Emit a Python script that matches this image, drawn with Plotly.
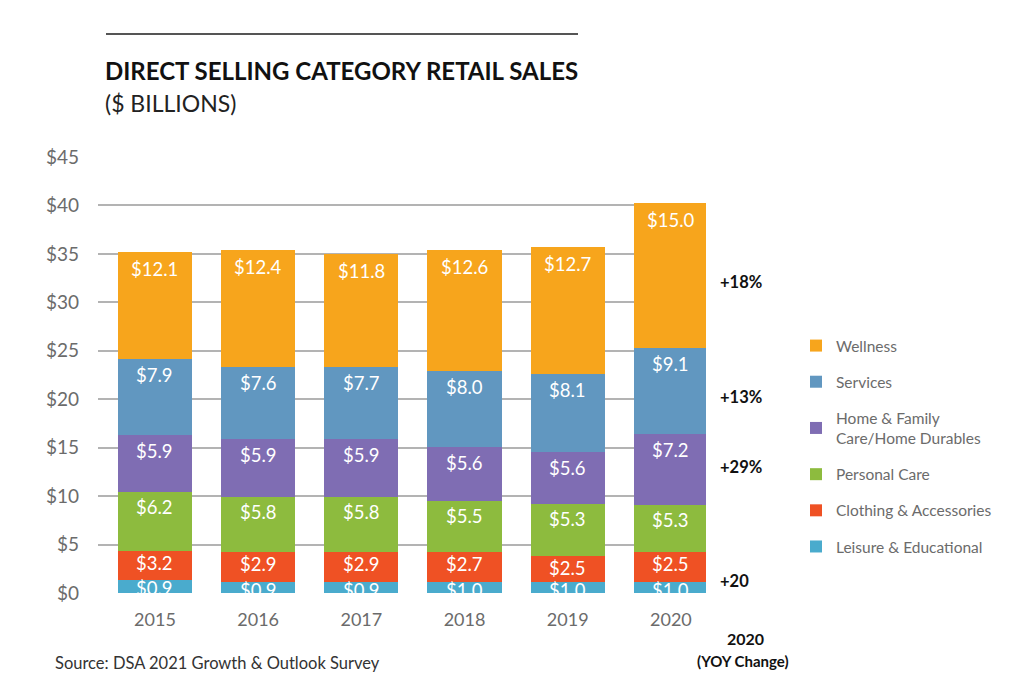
import plotly.graph_objects as go
import numpy as np

years = ["2015", "2016", "2017", "2018", "2019", "2020"]
series_names = ["Leisure & Educational", "Clothing & Accessories", "Personal Care",
                "Home & Family<br>Care/Home Durables", "Services", "Wellness"]
# value labels printed on the bars ($ billions)
leisure_lbl = ["$0.9", "$0.9", "$0.9", "$1.0", "$1.0", "$1.0"]
clothing_lbl = ["$3.2", "$2.9", "$2.9", "$2.7", "$2.5", "$2.5"]
personal_lbl = ["$6.2", "$5.8", "$5.8", "$5.5", "$5.3", "$5.3"]
home_lbl = ["$5.9", "$5.9", "$5.9", "$5.6", "$5.6", "$7.2"]
services_lbl = ["$7.9", "$7.6", "$7.7", "$8.0", "$8.1", "$9.1"]
wellness_lbl = ["$12.1", "$12.4", "$11.8", "$12.6", "$12.7", "$15.0"]
# segment heights as drawn in the picture ($ billions)
leisure = [1.3, 1.13, 1.13, 1.13, 1.13, 1.1]
clothing = [2.99, 3.06, 3.06, 3.06, 2.65, 3.1]
personal = [6.12, 5.71, 5.71, 5.29, 5.4, 4.85]
home = [5.91, 5.98, 5.98, 5.57, 5.42, 7.35]
services = [7.83, 7.42, 7.42, 7.9, 7.98, 8.86]
wellness = [11.04, 12.09, 11.69, 12.44, 13.15, 15.04]
yoy_labels = ["+18%", "+13%", "+29%", "+20"]
y_ticks = [0, 5, 10, 15, 20, 25, 30, 35, 40, 45]

colors = ["#4AABCD", "#EF5124", "#8DBB3E", "#7F6DB3", "#6197C0", "#F7A51C"]
values = [leisure, clothing, personal, home, services, wellness]
labels = [leisure_lbl, clothing_lbl, personal_lbl, home_lbl, services_lbl, wellness_lbl]
label_shift = [-8, -12, -15, -16, -16, -17]

FONT = "Lato"
L, R, T, B = 98, 706, 157, 593
W, H = 1024, 694
def px(x):
    return (x - L) / (R - L)
def py(y):
    return (B - y) / (B - T)

fig = go.Figure()
n = len(series_names)
for k, (name, vals, col) in enumerate(zip(series_names, values, colors)):
    fig.add_trace(go.Bar(x=years, y=vals, name=name, marker=dict(color=col, line=dict(width=0)),
                         width=0.72, legendgroup=name, legendrank=n - k, hoverinfo="skip"))

annotations = []
cum = np.zeros(len(years))
for vals, lbls, sh in zip(values, labels, label_shift):
    cum = cum + np.array(vals)
    for i, (top, t) in enumerate(zip(cum, lbls)):
        annotations.append(dict(x=i, y=float(top), xref="x", yref="y", text=t, showarrow=False,
                                yanchor="middle", yshift=sh,
                                font=dict(family=FONT, size=18.5, color="white")))

# title and subtitle
annotations.append(dict(x=px(103), y=py(70), xref="paper", yref="paper", xanchor="left", yanchor="middle",
                        text="<b>DIRECT SELLING CATEGORY RETAIL SALES</b>", showarrow=False,
                        font=dict(family=FONT, size=24, color="#111111")))
annotations.append(dict(x=px(103), y=py(103), xref="paper", yref="paper", xanchor="left", yanchor="middle",
                        text="($ BILLIONS)", showarrow=False,
                        font=dict(family=FONT, size=23, color="#222222")))
# YOY changes
for t, yp in zip(yoy_labels, [282, 397, 467, 581]):
    annotations.append(dict(x=px(718), y=py(yp), xref="paper", yref="paper", xanchor="left", yanchor="middle",
                            text="<b>" + t + "</b>", showarrow=False,
                            font=dict(family=FONT, size=16.5, color="#111111")))
annotations.append(dict(x=px(745), y=py(638), xref="paper", yref="paper", xanchor="center", yanchor="middle",
                        text="<b>2020</b>", showarrow=False, font=dict(family=FONT, size=16, color="#111111")))
annotations.append(dict(x=px(743), y=py(661), xref="paper", yref="paper", xanchor="center", yanchor="middle",
                        text="<b>(YOY Change)</b>", showarrow=False, font=dict(family=FONT, size=15, color="#111111")))
# source
annotations.append(dict(x=px(53), y=py(663), xref="paper", yref="paper", xanchor="left", yanchor="middle",
                        text="Source: DSA 2021 Growth & Outlook Survey", showarrow=False,
                        font=dict(family=FONT, size=16.5, color="#333333")))

fig.update_layout(
    width=W, height=H,
    margin=dict(l=L, r=W - R, t=T, b=H - B, pad=0),
    barmode="stack",
    plot_bgcolor="white", paper_bgcolor="white",
    font=dict(family=FONT, color="#6b6b6b"),
    annotations=annotations,
    shapes=[dict(type="line", xref="paper", yref="paper", x0=px(106), x1=px(578), y0=py(34), y1=py(34),
                 line=dict(color="#555555", width=2))],
    legend=dict(x=px(796), y=py(329), xanchor="left", yanchor="top",
                traceorder="grouped", tracegroupgap=13,
                font=dict(family=FONT, size=15.5, color="#6b6b6b"), bgcolor="rgba(0,0,0,0)"),
    xaxis=dict(type="category", range=[-0.552, 5.34], showgrid=False, showline=False, zeroline=False, ticks="",
               tickfont=dict(family=FONT, size=18, color="#6b6b6b"), ticklabelstandoff=14),
    yaxis=dict(range=[0, 45], tickvals=y_ticks, ticktext=["$" + str(v) for v in y_ticks],
               showgrid=True, gridcolor="#b3b3b3", gridwidth=1.5, zeroline=False, showline=False, ticks="",
               tickfont=dict(family=FONT, size=19, color="#6b6b6b"), ticklabelstandoff=18),
)

fig.write_html("out.html", config={"displayModeBar": False},
               post_script="document.body.style.margin='0';")
